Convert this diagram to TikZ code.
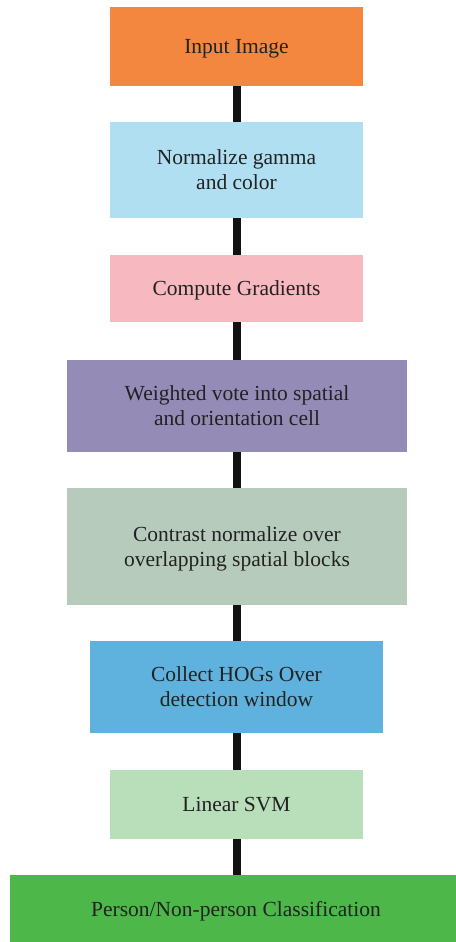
\documentclass[tikz,border=0pt]{standalone}
\usepackage{fontspec}
\setmainfont{Liberation Serif}
\usetikzlibrary{backgrounds}
\definecolor{cOrange}{HTML}{F4873F}
\definecolor{cSky}{HTML}{B0DFF2}
\definecolor{cPink}{HTML}{F8B8C0}
\definecolor{cPurple}{HTML}{948BB7}
\definecolor{cSage}{HTML}{B7CBBD}
\definecolor{cBlue}{HTML}{5FB1DE}
\definecolor{cMint}{HTML}{B9DFBA}
\definecolor{cGreen}{HTML}{4DB74A}
\definecolor{cText}{HTML}{222222}
\tikzset{
  stage/.style={rectangle, inner sep=0pt, align=center, text=cText,
    text depth=0pt, font=\fontsize{21.5}{25}\selectfont},
  link/.style={line width=8pt, draw=black!93}
}
\begin{document}
\begin{tikzpicture}[x=1pt, y=-1pt]
  \useasboundingbox (0,0) rectangle (455,942);
  % pipeline stages, top to bottom
  \node[stage, fill=cOrange, minimum width=253pt, minimum height=79pt] (input) at (236.5,46.5) {Input Image};
  \node[stage, fill=cSky, minimum width=253pt, minimum height=96pt] (gamma) at (236.5,170) {Normalize gamma\\and color};
  \node[stage, fill=cPink, minimum width=253pt, minimum height=67pt] (grad) at (236.5,288.5) {Compute Gradients};
  \node[stage, fill=cPurple, minimum width=340pt, minimum height=92pt] (vote) at (237,406) {Weighted vote into spatial\\and orientation cell};
  \node[stage, fill=cSage, minimum width=340pt, minimum height=117pt] (contrast) at (237,546.5) {Contrast normalize over\\overlapping spatial blocks};
  \node[stage, fill=cBlue, minimum width=293pt, minimum height=92pt] (hog) at (236.5,687) {Collect HOGs Over\\detection window};
  \node[stage, fill=cMint, minimum width=253pt, minimum height=69pt] (svm) at (236.5,804.5) {Linear SVM};
  % the last box runs past the right edge of the page
  \node[stage, fill=cGreen, minimum width=452pt, minimum height=67pt] (cls) at (236,908.5) {Person/Non-person Classification};
  % thick vertical links behind the boxes
  \begin{scope}[on background layer]
    \draw[link] (input.south) -- (gamma.north);
    \draw[link] (gamma.south) -- (grad.north);
    \draw[link] (grad.south) -- (grad.south |- vote.north);
    \draw[link] (grad.south |- vote.south) -- (grad.south |- contrast.north);
    \draw[link] (grad.south |- contrast.south) -- (hog.north);
    \draw[link] (hog.south) -- (svm.north);
    \draw[link] (svm.south) -- (svm.south |- cls.north);
  \end{scope}
\end{tikzpicture}
\end{document}
